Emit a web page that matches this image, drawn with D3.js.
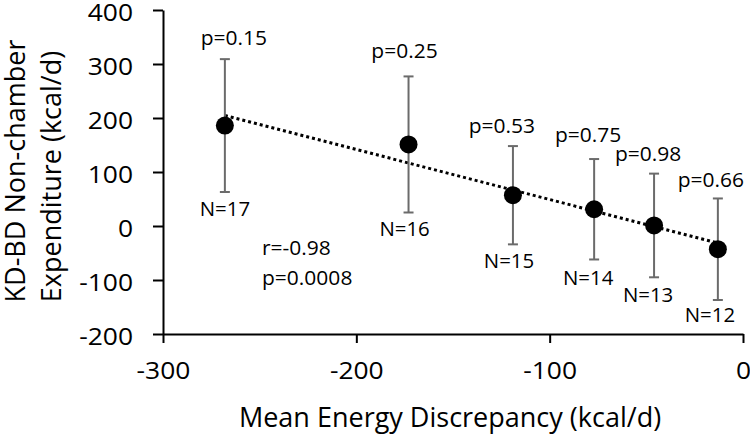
<!DOCTYPE html>
<html>
<head>
<meta charset="utf-8">
<script src="https://cdn.jsdelivr.net/npm/d3@7"></script>
<style>
  html, body { margin: 0; padding: 0; background: #fff; }
  svg { display: block; font-family: "Open Sans", sans-serif; }
</style>
</head>
<body>
<svg id="chart" width="750" height="435"></svg>
<script>
// ---- data ----
const meanDiscrepancy = [-268, -173, -119, -77, -46, -13];
const expenditure     = [186, 151, 57, 31, 1, -43];
const errorSize       = [123, 126, 91, 93, 96, 94];
const pLabels = ["p=0.15", "p=0.25", "p=0.53", "p=0.75", "p=0.98", "p=0.66"];
const nLabels = ["N=17", "N=16", "N=15", "N=14", "N=13", "N=12"];
const xTicks = [-300, -200, -100, 0];
const yTicks = [-200, -100, 0, 100, 200, 300, 400];
const statLines = ["r=-0.98", "p=0.0008"];

// ---- layout ----
const W = 750, H = 435;
const plot = {left: 163, right: 743, top: 10, bottom: 334};
const pOffset = [[9, 14], [-4, 18], [-11, 13], [-6, 17], [-6, 13], [-7, 11]];
const nOffset = [[0, 24], [-4, 23], [-4, 24], [-6, 25.5], [-6, 25], [-8, 22]];

const svg = d3.select("#chart");
const x = d3.scaleLinear().domain([-300, 0]).range([plot.left, plot.right]);
const y = d3.scaleLinear().domain([-200, 400]).range([plot.bottom, plot.top]);

const ink = "#000";
const barColor = "#6b6b6b";

// axes
const yAxis = svg.append("g").attr("transform", `translate(${plot.left},0)`)
  .call(d3.axisLeft(y).tickValues(yTicks).tickSize(10).tickSizeOuter(0).tickFormat(d3.format("d")));
const xAxis = svg.append("g").attr("transform", `translate(0,${plot.bottom})`)
  .call(d3.axisBottom(x).tickValues(xTicks).tickSize(9).tickSizeOuter(0).tickFormat(d3.format("d")));

[yAxis, xAxis].forEach(g => {
  g.select(".domain").attr("stroke", ink).attr("stroke-width", 2);
  g.selectAll(".tick line").attr("stroke", ink).attr("stroke-width", 2);
  g.selectAll(".tick text").attr("fill", ink).attr("font-size", 24)
    .attr("font-family", '"Open Sans", sans-serif');
});
yAxis.selectAll(".tick text").attr("x", null).attr("dy", null)
  .attr("transform", "translate(-30,10.5) scale(1.1,1)");
xAxis.selectAll(".tick text").attr("y", null).attr("dy", null)
  .attr("transform", "translate(0,44.5) scale(1.1,1)");
// hyphen-minus like the reference
svg.selectAll(".tick text").text(d => String(d));

// trendline (least squares on the means)
const mx = d3.mean(meanDiscrepancy), my = d3.mean(expenditure);
const sxy = d3.sum(meanDiscrepancy, (v, i) => (v - mx) * (expenditure[i] - my));
const sxx = d3.sum(meanDiscrepancy, v => (v - mx) * (v - mx));
const slope = sxy / sxx, icpt = my - slope * mx;
const x0 = d3.min(meanDiscrepancy), x1 = d3.max(meanDiscrepancy);
svg.append("line")
  .attr("x1", x(x0)).attr("y1", y(icpt + slope * x0))
  .attr("x2", x(x1)).attr("y2", y(icpt + slope * x1))
  .attr("stroke", ink).attr("stroke-width", 3)
  .attr("stroke-dasharray", "3,3");

// error bars
const eb = svg.append("g");
meanDiscrepancy.forEach((v, i) => {
  const cx = x(v), top = y(expenditure[i] + errorSize[i]), bot = y(expenditure[i] - errorSize[i]);
  eb.append("line").attr("x1", cx).attr("x2", cx).attr("y1", top).attr("y2", bot)
    .attr("stroke", barColor).attr("stroke-width", 2);
  [top, bot].forEach(yy => eb.append("line").attr("x1", cx - 5).attr("x2", cx + 5)
    .attr("y1", yy).attr("y2", yy).attr("stroke", barColor).attr("stroke-width", 2));
});

// points
svg.append("g").selectAll("circle").data(meanDiscrepancy).join("circle")
  .attr("cx", d => x(d)).attr("cy", (d, i) => y(expenditure[i]))
  .attr("r", 9).attr("fill", "#000");

// labels
function label(g, tx, ty, txt, size, anchor, sx) {
  return g.append("text").attr("transform", `translate(${tx},${ty}) scale(${sx},1)`)
    .attr("text-anchor", anchor).attr("font-size", size).attr("fill", ink).text(txt);
}
const lg = svg.append("g");
meanDiscrepancy.forEach((v, i) => {
  const cx = x(v);
  const top = y(expenditure[i] + errorSize[i]), bot = y(expenditure[i] - errorSize[i]);
  label(lg, cx + pOffset[i][0], top - pOffset[i][1], pLabels[i], 20, "middle", 1.05);
  label(lg, cx + nOffset[i][0], bot + nOffset[i][1], nLabels[i], 20, "middle", 1.02);
});
label(lg, 262, 255, statLines[0], 20, "start", 1.05);
label(lg, 262, 285, statLines[1], 20, "start", 1.05);

// axis titles
svg.append("text").attr("x", (plot.left + plot.right) / 2 - 3).attr("y", 427)
  .attr("text-anchor", "middle").attr("font-size", 27).attr("fill", ink)
  .text("Mean Energy Discrepancy (kcal/d)");
svg.append("text").attr("transform", "translate(24.5,171) rotate(-90)")
  .attr("text-anchor", "middle").attr("font-size", 27).attr("fill", ink)
  .text("KD-BD Non-chamber");
svg.append("text").attr("transform", "translate(60.5,176.5) rotate(-90)")
  .attr("text-anchor", "middle").attr("font-size", 27).attr("fill", ink)
  .text("Expenditure (kcal/d)");
</script>
</body>
</html>
